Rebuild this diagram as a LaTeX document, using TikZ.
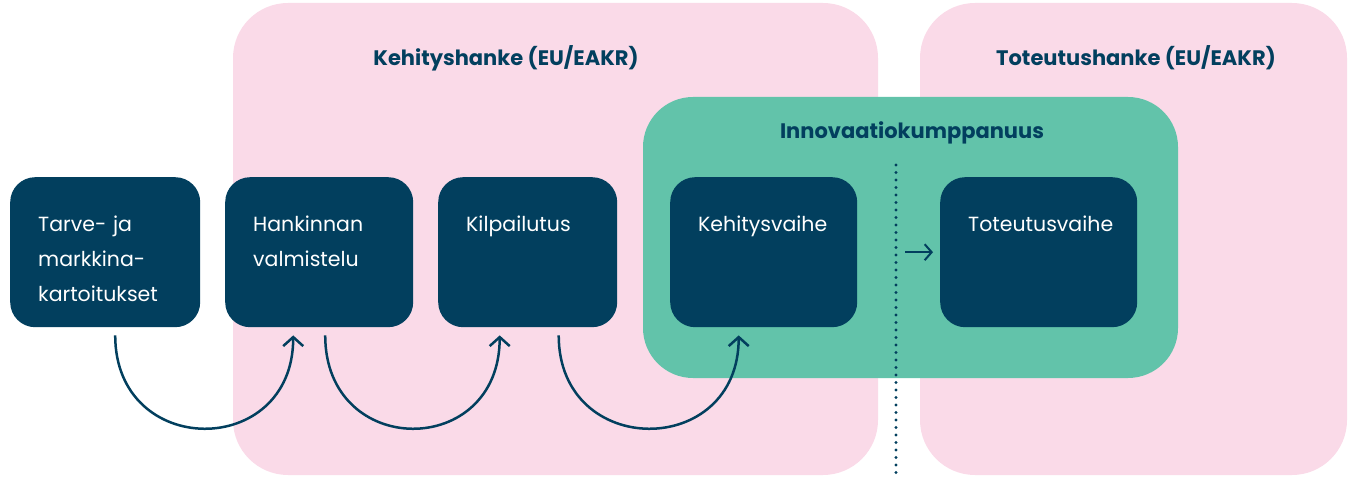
\documentclass[tikz,border=0pt]{standalone}
\usepackage{fontspec}
\setmainfont{Poppins}
\usetikzlibrary{arrows.meta}
\definecolor{navy}{HTML}{023F5E}
\definecolor{hankepink}{HTML}{FADAE8}
\definecolor{kumppgreen}{HTML}{62C3AA}

\begin{document}
\begin{tikzpicture}[x=1pt,y=1pt,
    phase/.style={fill=navy, text=white, rounded corners=25pt, anchor=north west,
      align=left, inner xsep=28pt, inner ysep=0pt, text height=54pt, text depth=96pt,
      font=\fontsize{20.5}{35}\selectfont},
    hanketitle/.style={text=navy, font=\fontsize{21}{24}\selectfont\bfseries},
    flow/.style={navy, line width=2.5pt, -{Straight Barb[length=9pt,width=20pt]}}]
    \useasboundingbox (0,0) rectangle (1349,477);
    % projects
    \fill[hankepink, rounded corners=55pt] (233,2) rectangle (878,474);
    \fill[hankepink, rounded corners=55pt] (920,2) rectangle (1347,474);
    \node[hanketitle] (kehhanke) at (506,419) {Kehityshanke (EU/EAKR)};
    \node[hanketitle] (tothanke) at (1136,419) {Toteutushanke (EU/EAKR)};
    % partnership
    \fill[kumppgreen, rounded corners=50pt] (643,99) rectangle (1178,380);
    \node[hanketitle] (kumpp) at (912,344) {Innovaatiokumppanuus};
    \draw[navy, line width=3.2pt, line cap=round, dash pattern=on 0pt off 7.5pt] (896,312) -- (896,0);
    % phases
    \node[phase, text width=134pt] (tarve) at (10,300) {Tarve- ja\\markkina-\\kartoitukset};
    \node[phase, text width=132pt] (hank) at (225,300) {Hankinnan\\valmistelu};
    \node[phase, text width=123pt] (kilp) at (438,300) {Kilpailutus};
    \node[phase, text width=131pt] (kehv) at (670,300) {Kehitysvaihe};
    \node[phase, text width=141pt] (totv) at (940,300) {Toteutusvaihe};
    % arrows
    \draw[flow] ([shift={(10,-8)}]tarve.south) .. controls +(0,-124) and +(0,-124) .. ([shift={(-26,-8)}]hank.south);
    \draw[flow] ([shift={(6,-8)}]hank.south) .. controls +(0,-124) and +(0,-124) .. ([shift={(-28,-8)}]kilp.south);
    \draw[flow] ([shift={(31,-8)}]kilp.south) .. controls +(0,-124) and +(0,-124) .. ([shift={(-25,-8)}]kehv.south);
    \draw[navy, line width=2pt, -{Straight Barb[length=7pt,width=16pt]}] ([xshift=-35]totv.west) -- ([xshift=-7]totv.west);
\end{tikzpicture}
\end{document}
